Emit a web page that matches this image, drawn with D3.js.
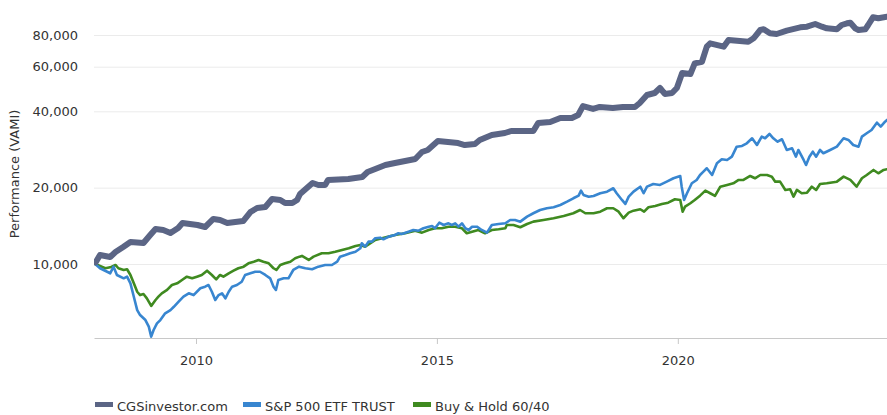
<!DOCTYPE html>
<html>
<head>
<meta charset="utf-8">
<title>Performance (VAMI)</title>
<script src="https://d3js.org/d3.v7.min.js"></script>
<style>
    body { margin: 0; background: #fff; }
    svg text { font-family: "DejaVu Sans", Verdana, sans-serif; fill: #333; }
</style>
</head>
<body>
<div id="chart"></div>
<script>
    // dates are decimal years, values are VAMI (start = 10,000)
    var cgsYears = [2007.92, 2008.01, 2008.22, 2008.33, 2008.49, 2008.64, 2008.91, 2009.05, 2009.16, 2009.32, 2009.47, 2009.63, 2009.72,
        2010.03, 2010.19, 2010.36, 2010.50, 2010.65, 2010.98, 2011.13, 2011.27, 2011.44, 2011.58, 2011.75, 2011.85, 2012.00, 2012.10,
        2012.16, 2012.42, 2012.54, 2012.68, 2012.74, 2013.16, 2013.45, 2013.56, 2013.72, 2013.93, 2014.13, 2014.34, 2014.55, 2014.69,
        2014.81, 2015.02, 2015.23, 2015.44, 2015.58, 2015.79, 2015.89, 2016.14, 2016.41, 2016.54, 2016.81, 2017.00, 2017.10, 2017.35,
        2017.56, 2017.80, 2017.93, 2018.03, 2018.24, 2018.38, 2018.65, 2018.86, 2019.11, 2019.21, 2019.36, 2019.52, 2019.63, 2019.73,
        2019.88, 2019.98, 2020.09, 2020.26, 2020.35, 2020.50, 2020.60, 2020.67, 2020.95, 2021.05, 2021.46, 2021.57, 2021.71, 2021.78,
        2021.91, 2022.05, 2022.26, 2022.54, 2022.68, 2022.85, 2022.99, 2023.09, 2023.30, 2023.40, 2023.51, 2023.58, 2023.68, 2023.75,
        2023.89, 2023.95, 2024.05, 2024.16, 2024.34];
    var cgsValues = [10150, 10850, 10660, 11150, 11670, 12210, 12100, 13010, 13740, 13620, 13250, 13870, 14510,
        14250, 13990, 15050, 14910, 14510, 14770, 16030, 16630, 16780, 18050, 17880, 17400, 17400, 17880,
        18880, 20870, 20490, 20490, 21440, 21640, 22040, 23060, 23700, 24570, 25020, 25480, 25950, 27650,
        28160, 30550, 30280, 30000, 29460, 29730, 30830, 32270, 32860, 33460, 33460, 33460, 35980, 36310,
        37650, 37650, 38690, 41960, 40860, 41610, 41240, 41610, 41610, 43140, 46400, 47250, 49440, 46830,
        47250, 49440, 56660, 56140, 61850, 62770, 71940, 74190, 71940, 76450, 75270, 77640, 83720, 84250,
        81250, 80730, 83190, 85790, 86270, 88410, 86270, 85020, 84250, 87610, 88960, 89450, 85020, 83720,
        84250, 87610, 93950, 93100, 94460];

    var spyYears = [2007.91, 2008.01, 2008.22, 2008.29, 2008.36, 2008.50, 2008.57, 2008.64, 2008.71, 2008.78, 2008.84, 2008.95,
        2009.02, 2009.07, 2009.12, 2009.19, 2009.26, 2009.36, 2009.47, 2009.54, 2009.64, 2009.74, 2009.85, 2009.95,
        2010.09, 2010.19, 2010.26, 2010.33, 2010.40, 2010.47, 2010.54, 2010.61, 2010.68, 2010.75, 2010.85, 2010.95,
        2011.02, 2011.13, 2011.23, 2011.33, 2011.44, 2011.54, 2011.61, 2011.66, 2011.71, 2011.82, 2011.92, 2012.02,
        2012.14, 2012.27, 2012.41, 2012.54, 2012.68, 2012.82, 2012.93, 2012.99, 2013.10, 2013.20, 2013.31, 2013.41,
        2013.44, 2013.51, 2013.58, 2013.65, 2013.72, 2013.82, 2013.89, 2014.00, 2014.13, 2014.20, 2014.27, 2014.41,
        2014.51, 2014.62, 2014.72, 2014.83, 2014.90, 2014.96, 2015.05, 2015.14, 2015.24, 2015.31, 2015.38, 2015.45,
        2015.52, 2015.59, 2015.66, 2015.73, 2015.83, 2015.93, 2016.04, 2016.14, 2016.28, 2016.42, 2016.52, 2016.62,
        2016.73, 2016.87, 2017.00, 2017.14, 2017.28, 2017.42, 2017.56, 2017.70, 2017.83, 2017.94, 2017.99, 2018.04,
        2018.15, 2018.25, 2018.39, 2018.53, 2018.66, 2018.73, 2018.84, 2018.91, 2018.98, 2019.08, 2019.22, 2019.29,
        2019.36, 2019.49, 2019.63, 2019.77, 2019.91, 2020.05, 2020.08, 2020.13, 2020.19, 2020.29, 2020.39, 2020.46,
        2020.53, 2020.60, 2020.71, 2020.81, 2020.91, 2021.02, 2021.12, 2021.22, 2021.33, 2021.43, 2021.54, 2021.64,
        2021.74, 2021.81, 2021.90, 2021.98, 2022.07, 2022.16, 2022.26, 2022.37, 2022.45, 2022.50, 2022.61, 2022.66,
        2022.73, 2022.80, 2022.87, 2022.95, 2023.02, 2023.16, 2023.30, 2023.44, 2023.54, 2023.64, 2023.75, 2023.82,
        2023.92, 2024.02, 2024.13, 2024.21, 2024.30, 2024.34];
    var spyValues = [10000, 9620, 9190, 9760, 9050, 8780, 8910, 8390, 7430, 6580, 6290, 6010,
        5660, 5170, 5490, 5830, 6010, 6390, 6580, 6780, 7100, 7430, 7660, 7540,
        8020, 8140, 8260, 7770, 7210, 7540, 7660, 7320, 7770, 8140, 8260, 8510,
        9050, 9190, 9320, 9320, 9050, 8780, 8140, 7900, 8650, 8780, 8780, 9470,
        9760, 9620, 9530, 9760, 9910, 9910, 10210, 10690, 10850, 11020, 11180, 11530,
        12070, 11700, 12250, 12250, 12630, 12700, 12520, 12820, 13010, 13220, 13130, 13410,
        13620, 13530, 13830, 14030, 14120, 13830, 14550, 14250, 14470, 14250, 14470, 14030,
        14470, 13830, 13620, 14030, 14030, 13620, 13290, 14250, 14380, 14470, 14910, 14910,
        14690, 15370, 15850, 16330, 16590, 16740, 17090, 17610, 18160, 18600, 19460, 18720,
        18430, 18550, 19010, 19290, 19890, 19010, 17890, 17250, 18430, 19290, 20180, 19010,
        20180, 20680, 20500, 21120, 21780, 22240, 20180, 17890, 19010, 20810, 21450, 22440,
        23130, 23850, 22440, 24960, 25880, 25720, 26500, 29020, 29210, 29930, 31320, 29470,
        31780, 31320, 32570, 31320, 30370, 31040, 28160, 28600, 26500, 28160, 25720, 24580,
        26500, 27730, 26500, 28160, 27330, 28160, 29020, 31320, 30840, 29470, 29020, 31780,
        32780, 33770, 36090, 34800, 36420, 36990];

    var mixYears = [2007.91, 2008.01, 2008.12, 2008.22, 2008.33, 2008.39, 2008.50, 2008.57, 2008.64, 2008.71, 2008.78, 2008.84,
        2008.91, 2008.98, 2009.07, 2009.16, 2009.22, 2009.29, 2009.40, 2009.50, 2009.61, 2009.71, 2009.81, 2009.92,
        2010.02, 2010.12, 2010.23, 2010.33, 2010.42, 2010.50, 2010.57, 2010.68, 2010.78, 2010.88, 2010.99, 2011.09,
        2011.20, 2011.30, 2011.40, 2011.51, 2011.61, 2011.67, 2011.75, 2011.85, 2011.96, 2012.06, 2012.15, 2012.20,
        2012.34, 2012.44, 2012.61, 2012.75, 2012.89, 2013.03, 2013.17, 2013.31, 2013.41, 2013.51, 2013.62, 2013.72,
        2013.86, 2014.00, 2014.13, 2014.34, 2014.55, 2014.69, 2014.83, 2014.96, 2015.10, 2015.24, 2015.38, 2015.52,
        2015.62, 2015.73, 2015.86, 2016.00, 2016.14, 2016.28, 2016.42, 2016.45, 2016.59, 2016.73, 2016.87, 2017.00,
        2017.21, 2017.42, 2017.63, 2017.83, 2017.97, 2018.08, 2018.25, 2018.39, 2018.53, 2018.66, 2018.77, 2018.87,
        2018.98, 2019.08, 2019.22, 2019.30, 2019.39, 2019.53, 2019.67, 2019.80, 2019.94, 2020.05, 2020.10, 2020.15,
        2020.26, 2020.35, 2020.46, 2020.57, 2020.67, 2020.77, 2020.88, 2021.02, 2021.15, 2021.26, 2021.36, 2021.50,
        2021.60, 2021.71, 2021.85, 2021.95, 2022.02, 2022.12, 2022.23, 2022.33, 2022.40, 2022.47, 2022.57, 2022.68,
        2022.78, 2022.87, 2022.95, 2023.09, 2023.30, 2023.44, 2023.58, 2023.71, 2023.82, 2023.92, 2024.06, 2024.16,
        2024.27, 2024.34];
    var mixValues = [10000, 9820, 9620, 9700, 9910, 9620, 9470, 9530, 9050, 8390, 7770, 7540,
        7610, 7320, 6830, 7210, 7430, 7660, 7900, 8260, 8390, 8650, 8910, 8780,
        8910, 9050, 9410, 9050, 8700, 9050, 8910, 9190, 9410, 9620, 9760, 10060,
        10210, 10370, 10210, 10060, 9620, 9470, 9910, 10060, 10210, 10530, 10690, 10760,
        10370, 10690, 11020, 11020, 11180, 11360, 11530, 11780, 11880, 11700, 12070, 12440,
        12630, 12820, 13010, 13220, 13530, 13290, 13620, 13830, 13830, 14030, 14030, 13830,
        13220, 13410, 13620, 13220, 13620, 13710, 13830, 14250, 14250, 13960, 14380, 14690,
        14910, 15150, 15470, 15850, 16330, 15850, 15850, 16080, 16590, 16590, 16080, 15150,
        15940, 16230, 16440, 16080, 16740, 16940, 17250, 17450, 18000, 17890, 16080, 16830,
        17360, 17890, 18600, 19460, 19010, 18550, 20180, 20500, 20810, 21450, 21450, 22240,
        21780, 22440, 22440, 22100, 21120, 21120, 19590, 19710, 18430, 19590, 19010, 19110,
        20180, 19590, 20680, 20810, 21120, 22100, 21450, 20180, 21780, 22440, 23490, 22790,
        23490, 23640];

    var seriesNames = ["CGSinvestor.com", "S&P 500 ETF TRUST", "Buy & Hold 60/40"];
    var seriesColors = ["#5b6585", "#3886d0", "#3f8a20"];
    var seriesWidths = [6, 2.6, 2.6];
    var yTicks = [10000, 20000, 40000, 60000, 80000];
    var xTicks = [2010, 2015, 2020];
    var xStart = 2007.885, xEnd = 2024.34;

    function toDate(v) {
        var yr = Math.floor(v);
        var s = Date.UTC(yr, 0, 1), e = Date.UTC(yr + 1, 0, 1);
        return new Date(s + (v - yr) * (e - s));
    }

    var width = 887, height = 415;
    var plotLeft = 94, plotRight = 887, plotTop = 10, plotBottom = 338;

    var svg = d3.select("#chart").append("svg")
        .attr("width", width)
        .attr("height", height);

    var x = d3.scaleUtc()
        .domain([toDate(xStart), toDate(xEnd)])
        .range([plotLeft, plotRight]);

    var y = d3.scaleLog()
        .domain([5106, 100400])
        .range([plotBottom, plotTop]);

    // grid + y labels
    var yAxis = svg.append("g")
        .attr("transform", "translate(" + plotLeft + ",0)")
        .call(d3.axisLeft(y)
            .tickValues(yTicks)
            .tickFormat(d3.format(","))
            .tickSize(-(plotRight - plotLeft))
            .tickPadding(16));
    yAxis.select(".domain").remove();
    yAxis.selectAll(".tick line").attr("stroke", "#ebebeb");
    yAxis.selectAll(".tick text").style("font-size", "13px").attr("fill", "#333");

    // x axis
    var xAxis = svg.append("g")
        .attr("transform", "translate(0," + plotBottom + ")")
        .call(d3.axisBottom(x)
            .tickValues(xTicks.map(toDate))
            .tickFormat(d3.utcFormat("%Y"))
            .tickSize(6)
            .tickSizeOuter(0)
            .tickPadding(12));
    xAxis.select(".domain").attr("stroke", "#c8c8c8");
    xAxis.selectAll(".tick line").attr("stroke", "#c8c8c8");
    xAxis.selectAll(".tick text").style("font-size", "13px").attr("fill", "#333");

    svg.append("text")
        .attr("transform", "translate(19,174) rotate(-90)")
        .attr("text-anchor", "middle")
        .style("font-size", "13px")
        .text("Performance (VAMI)");

    var line = d3.line()
        .x(function(d) { return x(toDate(d[0])); })
        .y(function(d) { return y(d[1]); });

    var series = [
        d3.zip(cgsYears, cgsValues),
        d3.zip(spyYears, spyValues),
        d3.zip(mixYears, mixValues)
    ];

    svg.append("clipPath").attr("id", "clip")
        .append("rect")
        .attr("x", plotLeft).attr("y", 0)
        .attr("width", plotRight - plotLeft).attr("height", plotBottom);

    // green first, gray on top
    [2, 1, 0].forEach(function(i) {
        svg.append("path")
            .datum(series[i])
            .attr("clip-path", "url(#clip)")
            .attr("fill", "none")
            .attr("stroke", seriesColors[i])
            .attr("stroke-width", seriesWidths[i])
            .attr("stroke-linejoin", "round")
            .attr("stroke-linecap", "round")
            .attr("d", line);
    });

    // legend
    var legendX = [95, 243, 413];
    var legend = svg.append("g");
    seriesNames.forEach(function(name, i) {
        var g = legend.append("g").attr("transform", "translate(" + legendX[i] + ",0)");
        g.append("rect")
            .attr("x", 0).attr("y", 402)
            .attr("width", 18).attr("height", 5)
            .attr("fill", seriesColors[i]);
        g.append("text")
            .attr("x", 22).attr("y", 411)
            .style("font-size", "13px")
            .text(name);
    });
</script>
</body>
</html>
